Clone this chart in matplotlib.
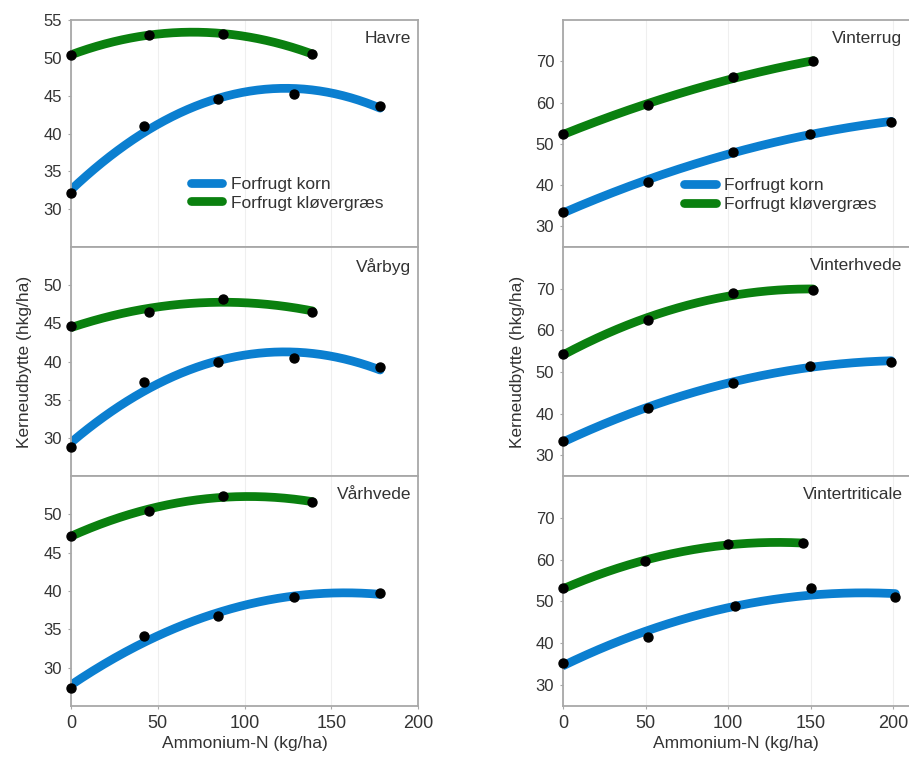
import numpy as np
import matplotlib
matplotlib.use("Agg")
import matplotlib.pyplot as plt

plt.rcParams['font.family'] = ['Liberation Sans', 'DejaVu Sans']

# ---------------- data ----------------
crops_left = ["Havre", "Vårbyg", "Vårhvede"]
crops_right = ["Vinterrug", "Vinterhvede", "Vintertriticale"]

series_labels = ["Forfrugt korn", "Forfrugt kløvergræs"]

# Havre
havre_korn_x = [0, 42, 84.5, 128.5, 178]
havre_korn_y = [32.1, 41.0, 44.6, 45.2, 43.7]
havre_klover_x = [0, 44.8, 87.8, 139]
havre_klover_y = [50.4, 53.0, 53.2, 50.5]

# Vårbyg
varbyg_korn_x = [0, 42, 84.5, 128.5, 178]
varbyg_korn_y = [28.8, 37.3, 39.9, 40.4, 39.3]
varbyg_klover_x = [0, 44.8, 87.8, 139]
varbyg_klover_y = [44.6, 46.5, 48.2, 46.5]

# Vårhvede
varhvede_korn_x = [0, 42, 84.5, 128.5, 178]
varhvede_korn_y = [27.4, 34.1, 36.7, 39.2, 39.7]
varhvede_klover_x = [0, 44.8, 87.8, 139]
varhvede_klover_y = [47.2, 50.5, 52.4, 51.6]

# Vinterrug
vinterrug_korn_x = [0, 51.4, 103, 149.6, 199]
vinterrug_korn_y = [33.5, 40.8, 48.1, 52.4, 55.3]
vinterrug_klover_x = [0, 51.4, 103, 151.6]
vinterrug_klover_y = [52.4, 59.4, 66.2, 70.0]

# Vinterhvede
vinterhvede_korn_x = [0, 51.4, 103, 149.6, 199]
vinterhvede_korn_y = [33.3, 41.4, 47.4, 51.5, 52.5]
vinterhvede_klover_x = [0, 51.4, 103, 151.6]
vinterhvede_klover_y = [54.3, 62.5, 69.0, 69.7]

# Vintertriticale
vintertrit_korn_x = [0, 51.6, 104.4, 150, 201.5]
vintertrit_korn_y = [35.4, 41.6, 48.8, 53.1, 51.1]
vintertrit_klover_x = [0, 49.6, 100, 145.6]
vintertrit_klover_y = [53.1, 59.7, 63.7, 63.9]

left_data = [
    (havre_korn_x, havre_korn_y, havre_klover_x, havre_klover_y),
    (varbyg_korn_x, varbyg_korn_y, varbyg_klover_x, varbyg_klover_y),
    (varhvede_korn_x, varhvede_korn_y, varhvede_klover_x, varhvede_klover_y),
]
right_data = [
    (vinterrug_korn_x, vinterrug_korn_y, vinterrug_klover_x, vinterrug_klover_y),
    (vinterhvede_korn_x, vinterhvede_korn_y, vinterhvede_klover_x, vinterhvede_klover_y),
    (vintertrit_korn_x, vintertrit_korn_y, vintertrit_klover_x, vintertrit_klover_y),
]

left_yticks = [[30, 35, 40, 45, 50, 55], [30, 35, 40, 45, 50], [30, 35, 40, 45, 50]]
right_yticks = [[30, 40, 50, 60, 70]] * 3
xticks = [0, 50, 100, 150, 200]

ylabel = "Kerneudbytte (hkg/ha)"
xlabel = "Ammonium-N (kg/ha)"

# ---------------- styling ----------------
BLUE = "#0b7fd0"
GREEN = "#0a800f"
FRAME = "#a8a8a8"
TXT = "#333333"
W, H = 909, 760
fig = plt.figure(figsize=(W / 100, H / 100), dpi=100)

rows_px = [(20, 247), (247, 476), (476, 706)]
cols = [dict(x0=71, x1=418.3, xlim=(0, 200), ylim=(25, 55), right_spine=True),
        dict(x0=563.3, x1=563.3 + 210 * 1.648, xlim=(0, 210), ylim=(25, 80), right_spine=False)]


def fit_curve(x, y):
    coef = np.polyfit(x, y, 2)
    xs = np.linspace(min(x), max(x), 200)
    return xs, np.polyval(coef, xs)


def make_panel(col, r, title, data, yt, legend):
    top, bot = rows_px[r]
    ax = fig.add_axes([col['x0'] / W, 1 - bot / H, (col['x1'] - col['x0']) / W, (bot - top) / H])
    ax.set_xlim(*col['xlim'])
    ax.set_ylim(*col['ylim'])
    for s in ax.spines.values():
        s.set_color(FRAME)
        s.set_linewidth(1.3)
    ax.spines['right'].set_visible(col['right_spine'])
    ax.set_xticks(xticks)
    ax.set_yticks(yt)
    ax.grid(axis='x', color='#efefef', linewidth=0.8)
    ax.set_axisbelow(True)
    ax.tick_params(axis='y', length=2.5, color=FRAME, labelsize=12, labelcolor=TXT, pad=4)
    if r == 2:
        ax.tick_params(axis='x', length=2.5, color=FRAME, labelsize=13, labelcolor=TXT, pad=4)
        ax.set_xlabel(xlabel, fontsize=12.5, color=TXT, labelpad=3)
    else:
        ax.tick_params(axis='x', length=0, labelbottom=False)
    kx, ky, gx, gy = data
    cx, cy = fit_curve(kx, ky)
    ax.plot(cx, cy, color=BLUE, lw=6.3, solid_capstyle='round', label=series_labels[0], zorder=2)
    cx, cy = fit_curve(gx, gy)
    ax.plot(cx, cy, color=GREEN, lw=6.3, solid_capstyle='round', label=series_labels[1], zorder=2)
    ax.scatter(kx, ky, s=42, color='black', zorder=3, clip_on=False)
    ax.scatter(gx, gy, s=42, color='black', zorder=3, clip_on=False)
    ax.annotate(title, xy=(1, 1), xycoords='axes fraction', xytext=(-5, -8),
                textcoords='offset points', ha='right', va='top', fontsize=12.5, color=TXT)
    if r == 1:
        ax.set_ylabel(ylabel, fontsize=12.5, color=TXT, labelpad=8)
    if legend is not None:
        ax.legend(loc='center left', bbox_to_anchor=legend, frameon=False, fontsize=12.5,
                  handlelength=1.8, handletextpad=0.5, labelspacing=0.2, borderpad=0,
                  borderaxespad=0, labelcolor=TXT)
    return ax


for r in range(3):
    make_panel(cols[0], r, crops_left[r], left_data[r], left_yticks[r],
               (0.345, 0.235) if r == 0 else None)
    make_panel(cols[1], r, crops_right[r], right_data[r], right_yticks[r],
               (0.35, 0.23) if r == 0 else None)

fig.savefig("out.png", dpi=100)
